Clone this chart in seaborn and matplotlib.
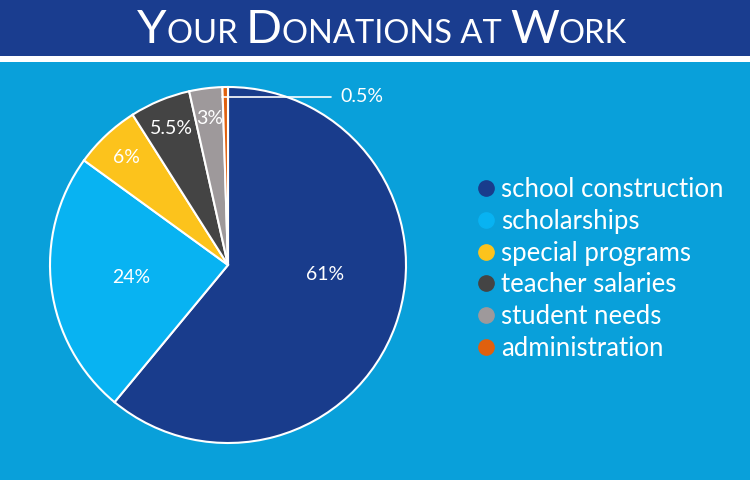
import matplotlib
matplotlib.use("Agg")
import matplotlib.pyplot as plt
import seaborn as sns
import numpy as np
from matplotlib.lines import Line2D
from matplotlib.patches import Rectangle

# data
categories = ["school construction", "scholarships", "special programs",
              "teacher salaries", "student needs", "administration"]
shares = [61, 24, 6, 5.5, 3, 0.5]
pct_labels = ["61%", "24%", "6%", "5.5%", "3%", "0.5%"]
colors = ["#193c8c", "#08b3f2", "#fcc31c", "#444444", "#9e999b", "#e0600e"]

title_parts = [("Y", True), ("OUR ", False), ("D", True), ("ONATIONS AT ", False),
               ("W", True), ("ORK", False)]

BG = "#09a0da"
BAND = "#1a3d8f"

sns.set_style("white")
plt.rcParams["font.family"] = ["Lato", "DejaVu Sans"]

fig = plt.figure(figsize=(7.5, 4.8), dpi=100)
fig.patch.set_facecolor(BG)

# title band + white stripe
fig.patches.append(Rectangle((0, 1 - 56 / 480), 1, 56 / 480, transform=fig.transFigure,
                             facecolor=BAND, edgecolor="none", zorder=0))
fig.patches.append(Rectangle((0, 1 - 62 / 480), 1, 6 / 480, transform=fig.transFigure,
                             facecolor="white", edgecolor="none", zorder=0))

# small caps title built from pieces
renderer = fig.canvas.get_renderer()
texts = []
for s, big in title_parts:
    t = fig.text(0, 1 - 43 / 480, s, color="white", fontsize=34 if big else 23.5,
                 ha="left", va="baseline")
    texts.append(t)
widths = [t.get_window_extent(renderer).width for t in texts]
total = sum(widths)
x = 382 - total / 2
for t, w in zip(texts, widths):
    t.set_x(x / 750)
    x += w

# pie
cx, cy, r = 228, 265, 178
ax = fig.add_axes([(cx - r) / 750, (480 - cy - r) / 480, 2 * r / 750, 2 * r / 480])
ax.set_facecolor(BG)
wedges, _ = ax.pie(shares, colors=colors, startangle=90, counterclock=False,
                   radius=1, wedgeprops=dict(edgecolor="white", linewidth=1.5))
ax.set_xlim(-1, 1)
ax.set_ylim(-1, 1)
ax.set_aspect("equal")
ax.axis("off")

for i, (w, lab) in enumerate(zip(wedges, pct_labels)):
    ang = np.deg2rad((w.theta1 + w.theta2) / 2)
    if shares[i] < 1:
        y0 = 0.944
        ax.plot([np.cos(ang) * 0.95 - 0.02, 0.58], [y0, y0], color="white", lw=1.2)
        ax.text(0.63, y0, lab, color="white", fontsize=14, va="center", ha="left")
        continue
    if shares[i] > 20:
        rr = 0.55
        if i == 0:
            ang = ang + np.deg2rad(14)
    else:
        rr = 0.83
    ax.text(np.cos(ang) * rr, np.sin(ang) * rr, lab, color="white", fontsize=14,
            ha="center", va="center")

# legend
handles = [Line2D([], [], marker="o", linestyle="none", markersize=11,
                  markerfacecolor=c, markeredgecolor=c) for c in colors]
leg = fig.legend(handles, categories, loc="center left",
                 bbox_to_anchor=(451 / 750, 1 - 269 / 480), frameon=False,
                 fontsize=18.5, labelcolor="white", handletextpad=0.15,
                 labelspacing=0.27, handlelength=0.9)

fig.savefig("out.png", dpi=100, facecolor=BG)
